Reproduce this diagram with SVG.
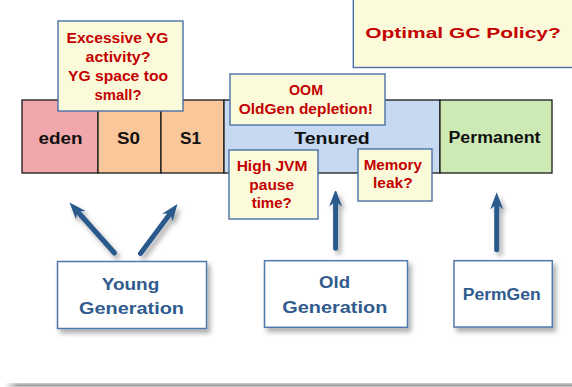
<svg xmlns="http://www.w3.org/2000/svg" width="572" height="387" viewBox="0 0 572 387">
  <style>
    text { font-family: "Liberation Sans", Arial, sans-serif; font-weight: bold; text-anchor: middle; }
    .cell { stroke: #1a1a1a; stroke-width: 1.3; }
    .cell-label { font-size: 16px; fill: #111111; }
    .note { fill: #fbfbdb; stroke: #4a71a5; stroke-width: 1.4; }
    .note-text { font-size: 14px; fill: #c40000; }
    .gen { fill: #ffffff; stroke: #5079ab; stroke-width: 1.5; }
    .gen-text { font-size: 16px; fill: #2f5b8e; }
    .shaft { stroke: #2c5a8c; stroke-width: 5; stroke-linecap: round; fill: none; }
  </style>
  <defs>
    <filter id="shadow" x="-20%" y="-20%" width="150%" height="160%">
      <feDropShadow dx="3" dy="4" stdDeviation="2.4" flood-color="#000000" flood-opacity="0.33"/>
    </filter>
    <marker id="head" markerUnits="userSpaceOnUse" markerWidth="20" markerHeight="16" viewBox="0 -8 18 16" refX="5" refY="0" orient="auto">
      <path d="M17,0 L0,-6.5 L5,0 L0,6.5 Z" fill="#2c5a8c"/>
    </marker>
    <linearGradient id="rule" x1="0" y1="0" x2="0" y2="1">
      <stop offset="0" stop-color="#d0d0d0"/>
      <stop offset="1" stop-color="#8c8c8c"/>
    </linearGradient>
    <linearGradient id="ruleFade" x1="0" y1="0" x2="1" y2="0">
      <stop offset="0" stop-color="#ffffff" stop-opacity="1"/>
      <stop offset="1" stop-color="#ffffff" stop-opacity="0"/>
    </linearGradient>
  </defs>

  <rect width="572" height="387" fill="#ffffff"/>

  <!-- Heap bar -->
  <g id="eden">
    <rect class="cell" x="22" y="100" width="76" height="73" fill="#f1a8ac"/>
    <text class="cell-label" x="60.5" y="144" textLength="44" lengthAdjust="spacingAndGlyphs">eden</text>
  </g>
  <g id="s0">
    <rect class="cell" x="98" y="100" width="63" height="73" fill="#f9c79a"/>
    <text class="cell-label" x="128.5" y="144" textLength="23" lengthAdjust="spacingAndGlyphs">S0</text>
  </g>
  <g id="s1">
    <rect class="cell" x="161" y="100" width="63" height="73" fill="#f9c79a"/>
    <text class="cell-label" x="190.5" y="144" textLength="21" lengthAdjust="spacingAndGlyphs">S1</text>
  </g>
  <g id="tenured">
    <rect class="cell" x="224" y="100" width="216" height="73" fill="#c7d9f0"/>
    <text class="cell-label" x="332" y="143.5" textLength="75.5" lengthAdjust="spacingAndGlyphs">Tenured</text>
  </g>
  <g id="permanent">
    <rect class="cell" x="440" y="100" width="112" height="73" fill="#cdeab5"/>
    <text class="cell-label" x="494.5" y="143" font-size="15" textLength="92" lengthAdjust="spacingAndGlyphs">Permanent</text>
  </g>

  <!-- Question notes -->
  <g id="note-yg">
    <rect class="note" x="58" y="21" width="125" height="90"/>
    <text class="note-text" x="117.5" y="43" textLength="102" lengthAdjust="spacingAndGlyphs">Excessive YG</text>
    <text class="note-text" x="118" y="62" textLength="65" lengthAdjust="spacingAndGlyphs">activity?</text>
    <text class="note-text" x="118" y="81" textLength="100" lengthAdjust="spacingAndGlyphs">YG space too</text>
    <text class="note-text" x="118" y="99.5" textLength="47" lengthAdjust="spacingAndGlyphs">small?</text>
  </g>
  <g id="note-oom">
    <rect class="note" x="230" y="74" width="155" height="51"/>
    <text class="note-text" x="306" y="94.5" textLength="34" lengthAdjust="spacingAndGlyphs">OOM</text>
    <text class="note-text" x="305.8" y="113.5" textLength="134" lengthAdjust="spacingAndGlyphs">OldGen depletion!</text>
  </g>
  <g id="note-pause">
    <rect class="note" x="229" y="150" width="89" height="69"/>
    <text class="note-text" x="272" y="170.7" textLength="70.7" lengthAdjust="spacingAndGlyphs">High JVM</text>
    <text class="note-text" x="271.7" y="189.5" textLength="44.7" lengthAdjust="spacingAndGlyphs">pause</text>
    <text class="note-text" x="271.7" y="207.7" textLength="40" lengthAdjust="spacingAndGlyphs">time?</text>
  </g>
  <g id="note-leak">
    <rect class="note" x="358" y="149" width="74" height="52"/>
    <text class="note-text" x="392.8" y="170" textLength="58.3" lengthAdjust="spacingAndGlyphs">Memory</text>
    <text class="note-text" x="392.8" y="188.3" textLength="39.7" lengthAdjust="spacingAndGlyphs">leak?</text>
  </g>
  <g id="note-policy">
    <rect class="note" x="353.3" y="-3" width="225" height="70.5"/>
    <text class="note-text" x="463" y="37.5" font-size="16" textLength="195.7" lengthAdjust="spacingAndGlyphs">Optimal GC Policy?</text>
  </g>

  <!-- Connectors: generation boxes pointing to their heap areas -->
  <g id="connectors" filter="url(#shadow)">
    <line class="shaft" x1="114.5" y1="253" x2="77.5" y2="211.5" marker-end="url(#head)"/>
    <line class="shaft" x1="140.5" y1="253.5" x2="170.3" y2="213.6" marker-end="url(#head)"/>
    <line class="shaft" x1="335.6" y1="248.2" x2="335.6" y2="201.5" marker-end="url(#head)"/>
    <line class="shaft" x1="496.7" y1="249.8" x2="496.7" y2="204.3" marker-end="url(#head)"/>
  </g>

  <!-- Generation boxes -->
  <g id="young-generation">
    <rect class="gen" x="57.5" y="261.5" width="149" height="67" filter="url(#shadow)"/>
    <text class="gen-text" x="130.5" y="290" textLength="57.7" lengthAdjust="spacingAndGlyphs">Young</text>
    <text class="gen-text" x="131.5" y="314" textLength="105" lengthAdjust="spacingAndGlyphs">Generation</text>
  </g>
  <g id="old-generation">
    <rect class="gen" x="264.5" y="260.7" width="143" height="66.6" filter="url(#shadow)"/>
    <text class="gen-text" x="334.5" y="288.3" textLength="31" lengthAdjust="spacingAndGlyphs">Old</text>
    <text class="gen-text" x="334.8" y="312.7" textLength="105" lengthAdjust="spacingAndGlyphs">Generation</text>
  </g>
  <g id="permgen">
    <rect class="gen" x="454" y="260.7" width="98.3" height="66.3" filter="url(#shadow)"/>
    <text class="gen-text" x="501.7" y="300" font-size="15" textLength="78" lengthAdjust="spacingAndGlyphs">PermGen</text>
  </g>

  <!-- Bottom rule -->
  <rect x="4" y="383" width="568" height="3.5" fill="url(#rule)"/>
  <rect x="4" y="382" width="14" height="5" fill="url(#ruleFade)"/>
</svg>
